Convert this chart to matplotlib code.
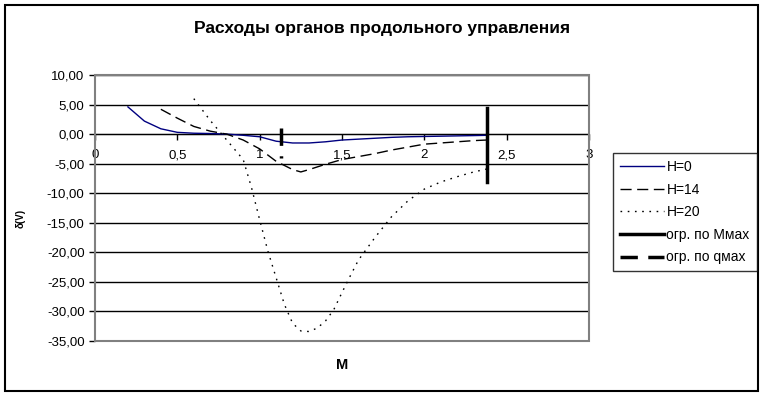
import matplotlib
matplotlib.use("Agg")
import matplotlib.pyplot as plt
from matplotlib.patches import Rectangle

plt.rcParams['font.family'] = ['Liberation Sans', 'DejaVu Sans']

# H = 0
x_h0 = [0.2, 0.3, 0.4, 0.5, 0.6, 0.7, 0.8, 0.9, 1.0, 1.1, 1.2, 1.3, 1.4, 1.5,
        1.6, 1.7, 1.8, 1.9, 2.0, 2.1, 2.2, 2.3, 2.38]
y_h0 = [4.6, 2.2, 0.9, 0.3, 0.15, 0.1, 0.0, -0.2, -0.45, -1.2, -1.5, -1.5, -1.3, -1.0,
        -0.85, -0.7, -0.55, -0.45, -0.4, -0.35, -0.3, -0.25, -0.2]

# H = 14
x_h14 = [0.4, 0.5, 0.6, 0.7, 0.8, 0.9, 1.0, 1.1, 1.2, 1.25, 1.3, 1.4, 1.5,
         1.6, 1.7, 1.8, 1.9, 2.0, 2.1, 2.2, 2.3, 2.38]
y_h14 = [4.2, 2.7, 1.3, 0.5, 0.0, -1.0, -2.5, -4.6, -6.0, -6.4, -6.0, -5.1, -4.3,
         -3.8, -3.3, -2.7, -2.2, -1.7, -1.5, -1.3, -1.1, -1.0]

# H = 20
x_h20 = [0.6, 0.7, 0.8, 0.9, 0.95, 1.0, 1.05, 1.1, 1.15, 1.2, 1.25, 1.3, 1.35, 1.4,
         1.45, 1.5, 1.55, 1.6, 1.7, 1.8, 1.9, 2.0, 2.1, 2.2, 2.3, 2.38]
y_h20 = [6.0, 2.3, -1.0, -4.3, -9.0, -14.5, -19.8, -24.3, -28.8, -32.0, -33.3, -33.4, -32.8, -31.6,
         -29.7, -26.8, -24.0, -21.3, -17.5, -14.0, -11.3, -9.3, -8.1, -7.2, -6.4, -5.9]

# limit lines
x_mmax = [2.38, 2.38]
y_mmax = [4.4, -8.1]
x_qmax = [1.13, 1.13]
y_qmax = [1.0, -4.0]

x_ticks = [0, 0.5, 1, 1.5, 2, 2.5, 3]
x_labels = ['0', '0,5', '1', '1,5', '2', '2,5', '3']
y_ticks = [10, 5, 0, -5, -10, -15, -20, -25, -30, -35]
y_labels = ['10,00', '5,00', '0,00', '-5,00', '-10,00', '-15,00', '-20,00',
            '-25,00', '-30,00', '-35,00']

W, H = 763, 395
fig = plt.figure(figsize=(W / 100, H / 100), dpi=100)
ax = fig.add_axes([95 / W, 1 - 341 / H, 494 / W, 266 / H])

for yv in y_ticks:
    ax.axhline(yv, color='black', lw=1, zorder=1)

ax.plot(x_h0, y_h0, color='#000080', lw=1, label='H=0', zorder=3)
ax.plot(x_h14, y_h14, color='black', lw=1, dashes=(8, 4), label='H=14', zorder=3)
ax.plot(x_h20, y_h20, color='black', lw=1, dashes=(1.2, 4), label='H=20', zorder=3)
ax.plot(x_mmax, y_mmax, color='black', lw=2.5, label='огр. по Mмах', zorder=4)
ax.plot(x_qmax, y_qmax, color='black', lw=2.5, dashes=(5, 3), label='огр. по qмах', zorder=4)

ax.set_xlim(0, 3)
ax.set_ylim(-35, 10)
ax.set_xticks(x_ticks)
ax.set_xticklabels(x_labels)
ax.set_yticks(y_ticks)
ax.set_yticklabels(y_labels)

ax.spines['bottom'].set_position(('data', 0))
ax.spines['bottom'].set_color('black')
ax.spines['left'].set_color('black')
ax.spines['left'].set_linewidth(1.2)
ax.spines['top'].set_visible(False)
ax.spines['right'].set_visible(False)
ax.tick_params(axis='both', direction='out', length=4, width=1, labelsize=9.5, colors='black')
ax.tick_params(axis='x', pad=7)

# grey plot area frame
ax.add_patch(Rectangle((0, 0), 1, 1, transform=ax.transAxes, fill=False,
                       edgecolor='#808080', lw=1.5, zorder=5, clip_on=False))

fig.text(382 / W, 1 - 29 / H, 'Расходы органов продольного управления',
         ha='center', va='center', fontsize=12.5, fontweight='bold')
fig.text(342 / W, 1 - 365 / H, 'M', ha='center', va='center', fontsize=10.5, fontweight='bold')
fig.text(21 / W, 1 - 218 / H, 'δ(V)', ha='center', va='center', rotation=90,
         fontsize=7, fontweight='bold')

leg = fig.legend(loc='upper left', bbox_to_anchor=(613 / W, 1 - 153 / H),
                 frameon=True, fancybox=False, fontsize=10, handlelength=3.2,
                 handletextpad=0.15, labelspacing=0.62, borderpad=0.5,
                 borderaxespad=0)
leg.get_frame().set_edgecolor('black')
leg.get_frame().set_linewidth(1)

# outer chart frame
fig.add_artist(Rectangle((5 / W, 1 - 391 / H), 753 / W, 386 / H, transform=fig.transFigure,
                         fill=False, edgecolor='black', lw=1.5))

fig.savefig('out.png', dpi=100)
